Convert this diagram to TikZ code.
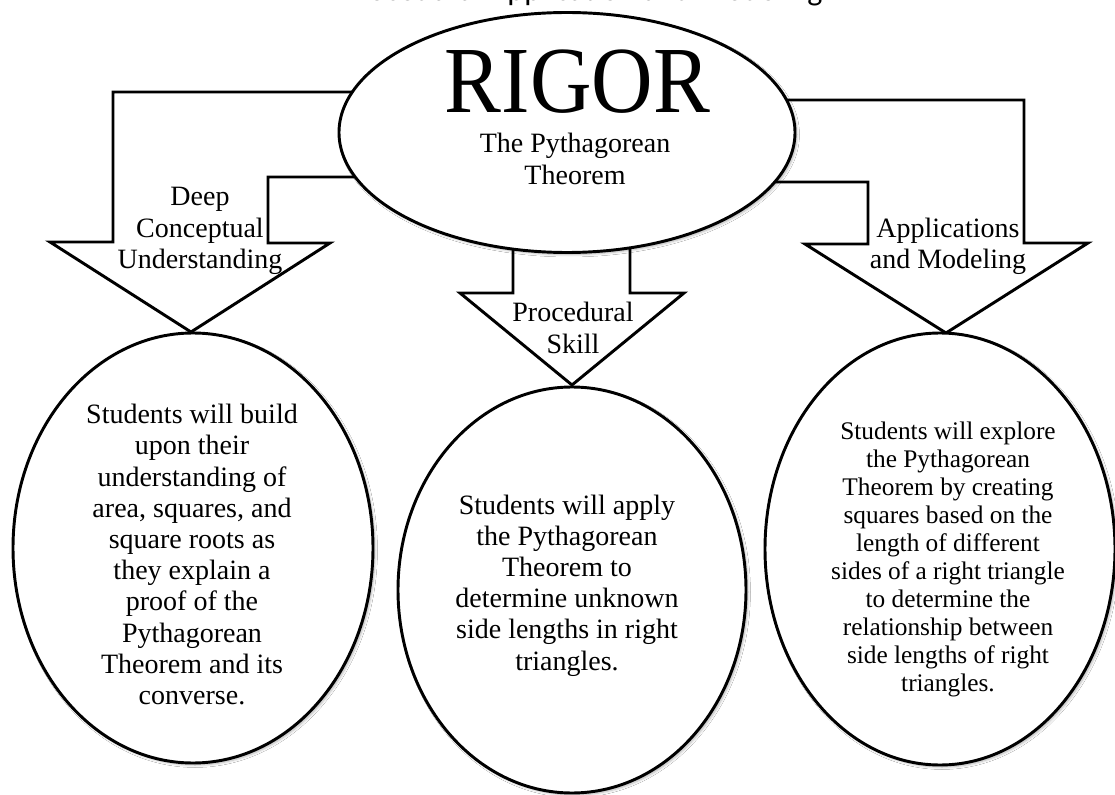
\documentclass[tikz,border=0pt]{standalone}
\usepackage{fontspec}
\setmainfont{Liberation Serif}
\newfontfamily\titlefont{Carlito}
\usetikzlibrary{shapes.geometric,shadows.blur}
\tikzstyle{bubble}=[ellipse,draw=black,fill=white,line width=2.2pt,
                    inner sep=0pt,
                    blur shadow={shadow xshift=1.5pt,shadow yshift=-1.5pt,
                                 shadow blur steps=6,shadow opacity=30}]
\tikzstyle{bigarrow}=[draw=black,fill=white,line width=2.2pt,line join=miter]
\tikzstyle{arrowtext}=[align=center,inner sep=0pt,
                       font=\fontsize{21}{23.4}\selectfont]
\tikzstyle{smalltext}=[align=center,inner sep=0pt,
                       font=\fontsize{19}{21}\selectfont]

\begin{document}
\begin{tikzpicture}[x=0.75pt,y=-0.75pt]
    \useasboundingbox[fill=white] (0,0) rectangle (1115,795);
    \node (title) at (582,0.8) [anchor=base,inner sep=0pt,
        font=\titlefont\fontsize{24}{28}\selectfont]{Procedural Application and Modeling};
    \draw[bigarrow] (400,92) -- (113,92) -- (113,242) -- (50,242) -- (191,332)
        -- (330,243) -- (268,243) -- (268,177) -- (400,177) -- cycle;
    \draw[bigarrow] (513,200) -- (513,293) -- (460,293) -- (572,385)
        -- (684,293) -- (630,293) -- (630,200) -- cycle;
    \draw[bigarrow] (740,100) -- (1024,100) -- (1024,243) -- (1088,243) -- (946,333)
        -- (805,244) -- (868,244) -- (868,182) -- (740,182) -- cycle;
    \node (rigor) at (567,132.5) [bubble,minimum width=342pt,minimum height=180pt]{};
    \node (deep) at (193,548) [bubble,minimum width=270pt,minimum height=322.5pt]{};
    \node (skill) at (572,590) [bubble,minimum width=261pt,minimum height=304.5pt]{};
    \node (model) at (940,549) [bubble,minimum width=262.5pt,minimum height=324pt]{};
    \node (rigorword) at (577.5,113) [anchor=base,inner sep=0pt,
        font=\fontsize{71}{71}\selectfont]{\scalebox{0.9}[1]{RIGOR}};
    \node (theorem) at (575,159) [arrowtext]{The Pythagorean\\Theorem};
    \node (deeplabel) at (200,231) [arrowtext]{Deep\\Conceptual\\Understanding};
    \node (skilllabel) at (573,328) [arrowtext]{Procedural\\Skill};
    \node (modellabel) at (948,246) [arrowtext]{Applications\\and Modeling};
    \node (deeptext) at (192,554.5) [arrowtext]{Students will build\\upon their\\
        understanding of\\area, squares, and\\square roots as\\they explain a\\
        proof of the\\Pythagorean\\Theorem and its\\converse.};
    \node (skilltext) at (567,585.5) [arrowtext]{Students will apply\\the Pythagorean\\
        Theorem to\\determine unknown\\side lengths in right\\triangles.};
    \node (modeltext) at (948,559) [smalltext]{Students will explore\\the Pythagorean\\
        Theorem by creating\\squares based on the\\length of different\\
        sides of a right triangle\\to determine the\\relationship between\\
        side lengths of right\\triangles.};
\end{tikzpicture}
\end{document}
